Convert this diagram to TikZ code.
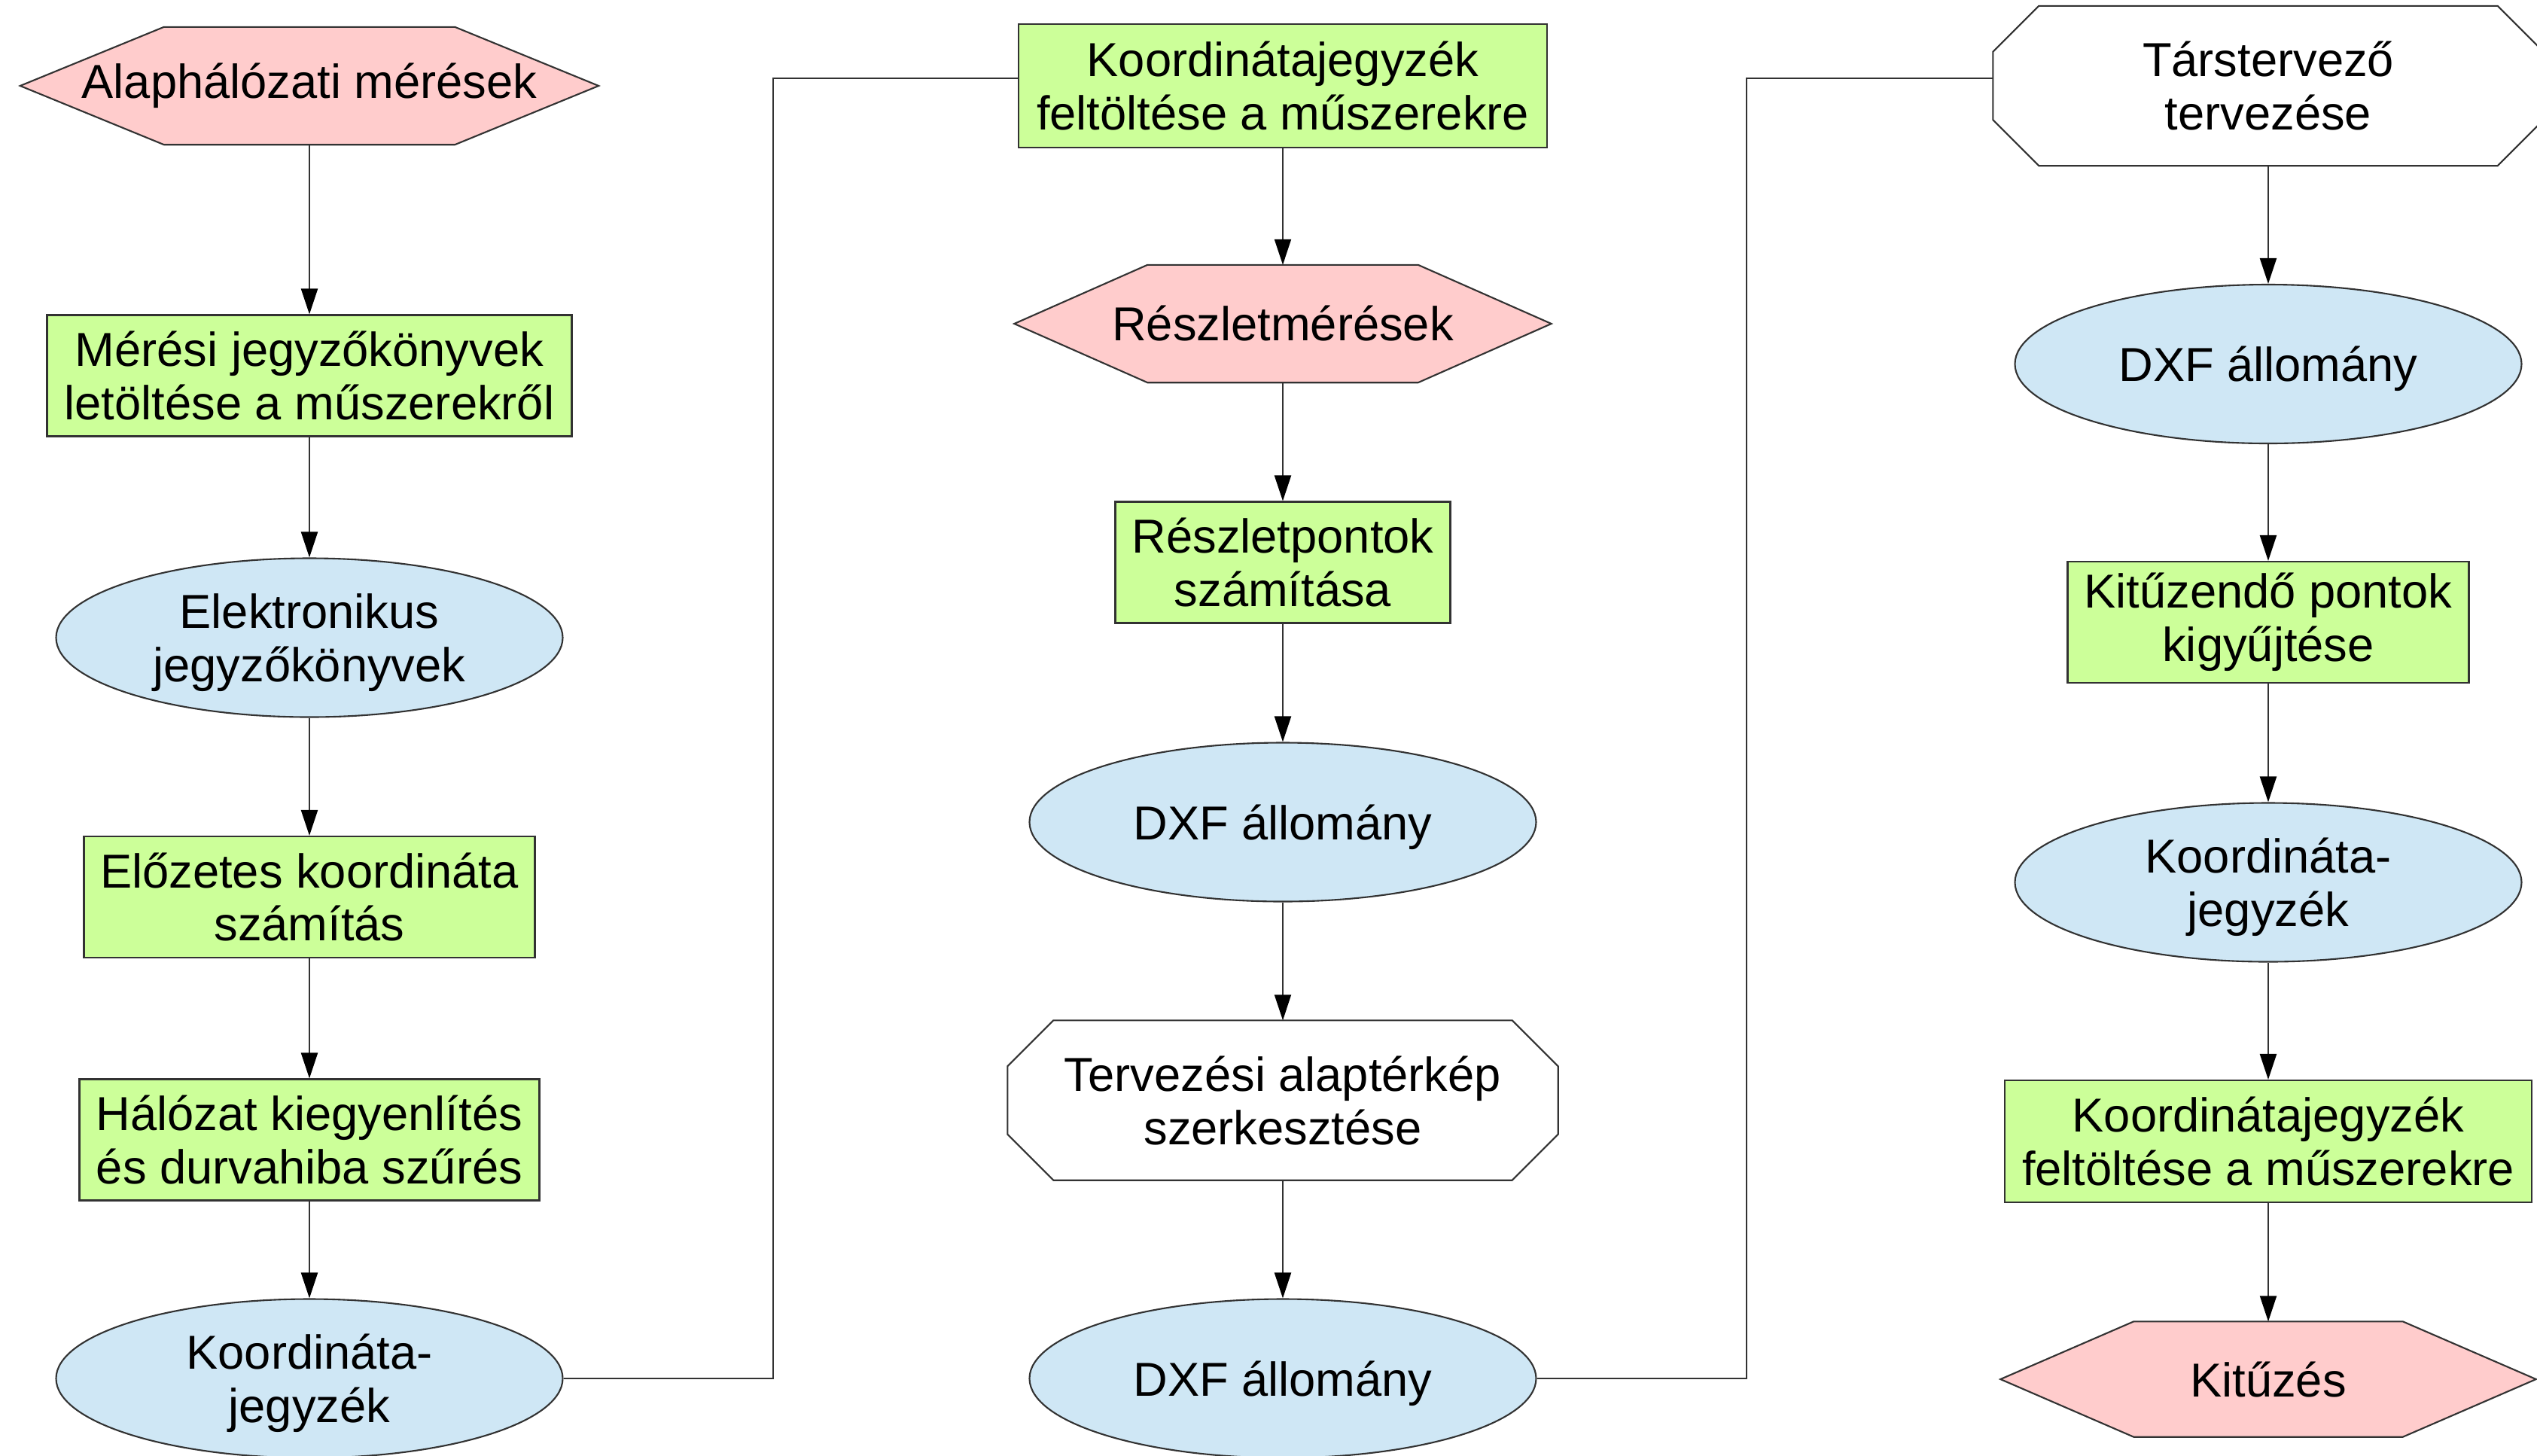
\documentclass[tikz,border=0pt]{standalone}
\usepackage{fontspec}
\setmainfont{Liberation Sans}
\usetikzlibrary{arrows.meta,shapes.geometric,backgrounds}

\definecolor{procgreen}{RGB}{204,255,153}
\definecolor{datablue}{RGB}{207,231,245}
\definecolor{eventpink}{RGB}{255,204,204}
\definecolor{edgegray}{RGB}{50,50,50}

\tikzset{
  base/.style={inner sep=0pt, align=center, font=\fontsize{18}{20.2}\selectfont},
  procbox/.style={base, draw=edgegray, fill=procgreen, line width=0.6pt, minimum height=1.61cm},
  databox/.style={base, ellipse, draw=edgegray, fill=datablue, line width=0.6pt, text depth=0pt, minimum width=6.73cm, minimum height=2.11cm},
  hexnode/.style={base, minimum height=1.55cm},
  octnode/.style={base, minimum width=7.30cm, minimum height=2.11cm},
  hexfill/.style={draw=edgegray, fill=eventpink, line width=0.6pt},
  octfill/.style={draw=edgegray, fill=white, line width=0.6pt},
  flow/.style={draw=edgegray, line width=0.6pt, -{Triangle[length=0.34cm,width=0.22cm,color=black]}},
  link/.style={draw=edgegray, line width=0.6pt}
}

\begin{document}
\begin{tikzpicture}
  \useasboundingbox (0,0) rectangle (33.70,-19.33);

  % first column
  \node[hexnode, minimum width=7.67cm] (hexA) at (4.11,-1.14) {Alaphálózati mérések};
  \node[procbox, minimum width=6.97cm] (boxA) at (4.11,-4.99) {Mérési jegyzőkönyvek\\letöltése a műszerekről};
  \node[databox] (ellA) at (4.11,-8.47) {Elektronikus\\jegyzőkönyvek};
  \node[procbox, minimum width=5.99cm] (boxB) at (4.11,-11.915) {Előzetes koordináta\\számítás};
  \node[procbox, minimum width=6.11cm] (boxC) at (4.11,-15.14) {Hálózat kiegyenlítés\\és durvahiba szűrés};
  \node[databox] (ellB) at (4.11,-18.31) {Koordináta-\\jegyzék};

  % second column
  \node[procbox, minimum width=7.02cm, minimum height=1.64cm] (boxD) at (17.04,-1.14) {Koordinátajegyzék\\feltöltése a műszerekre};
  \node[hexnode, minimum width=7.12cm] (hexB) at (17.04,-4.30) {Részletmérések};
  \node[procbox, minimum width=4.45cm] (boxE) at (17.04,-7.47) {Részletpontok\\számítása};
  \node[databox] (ellC) at (17.04,-10.92) {DXF állomány};
  \node[octnode] (octA) at (17.04,-14.615) {Tervezési alaptérkép\\szerkesztése};
  \node[databox] (ellD) at (17.04,-18.31) {DXF állomány};

  % third column
  \node[octnode] (octB) at (30.13,-1.14) {Társtervező\\tervezése};
  \node[databox] (ellE) at (30.13,-4.835) {DXF állomány};
  \node[procbox, minimum width=5.33cm] (boxF) at (30.13,-8.265) {Kitűzendő pontok\\kigyűjtése};
  \node[databox] (ellF) at (30.13,-11.72) {Koordináta-\\jegyzék};
  \node[procbox, minimum width=7.00cm, minimum height=1.62cm] (boxG) at (30.13,-15.16) {Koordinátajegyzék\\feltöltése a műszerekre};
  \node[hexnode, minimum width=7.10cm, minimum height=1.52cm] (hexC) at (30.13,-18.32) {Kitűzés};

  \begin{scope}[on background layer]
    \foreach \n/\d in {hexA/1.91, hexB/1.77, hexC/1.77}
      \draw[hexfill] (\n.west) -- ([xshift=\d cm]\n.north west) -- ([xshift=-\d cm]\n.north east)
        -- (\n.east) -- ([xshift=-\d cm]\n.south east) -- ([xshift=\d cm]\n.south west) -- cycle;
    \foreach \n in {octA, octB}
      \draw[octfill] ([yshift=-0.61cm]\n.north west) -- ([xshift=0.61cm]\n.north west)
        -- ([xshift=-0.61cm]\n.north east) -- ([yshift=-0.61cm]\n.north east)
        -- ([yshift=0.61cm]\n.south east) -- ([xshift=-0.61cm]\n.south east)
        -- ([xshift=0.61cm]\n.south west) -- ([yshift=0.61cm]\n.south west) -- cycle;
  \end{scope}

  \foreach \a/\b in {hexA/boxA, boxA/ellA, ellA/boxB, boxB/boxC, boxC/ellB,
                     boxD/hexB, hexB/boxE, boxE/ellC, ellC/octA, octA/ellD,
                     octB/ellE, ellE/boxF, boxF/ellF, ellF/boxG, boxG/hexC}
    \draw[flow] (\a.south) -- (\b.north);

  \draw[link] (ellB.east) -- ++(2.78,0) |- ([yshift=0.1cm]boxD.west);
  \draw[link] (ellD.east) -- ++(2.78,0) |- ([yshift=0.1cm]octB.west);
\end{tikzpicture}
\end{document}
